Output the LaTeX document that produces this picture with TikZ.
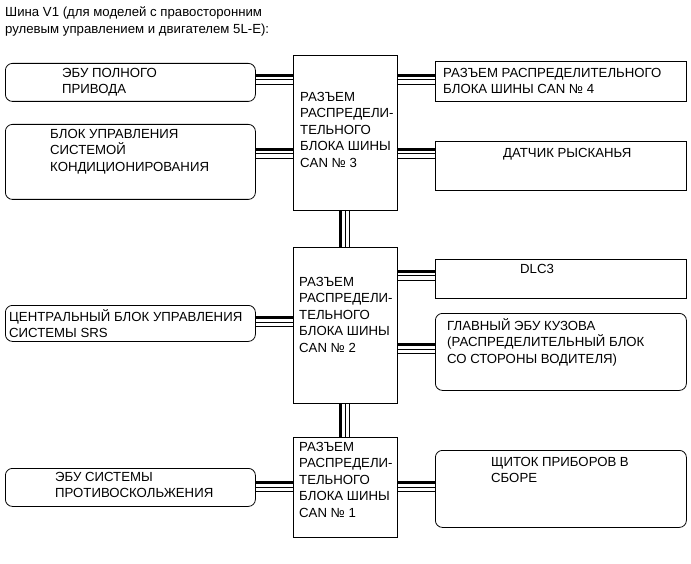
\documentclass[tikz,border=0pt]{standalone}
\usepackage{fontspec}
\setmainfont{Liberation Sans}
\tikzset{
  unit/.style={draw, rounded corners=7pt, line width=0.8pt, anchor=north west, inner sep=0pt},
  plainbox/.style={draw, line width=0.8pt, anchor=north west, inner sep=0pt},
  caption/.style={anchor=north west, align=left, inner sep=0pt, font=\fontsize{13.2}{16.5}\selectfont},
}
% шина из трех проводов
\newcommand{\hbus}[3]{%
  \foreach \o/\w in {-4.5/2.2pt, 0/1pt, 4.5/1.4pt}
    \draw[line width=\w] (#1.east |- 0,#3+\o) -- (#2.west |- 0,#3+\o);}
\newcommand{\vbus}[3]{%
  \foreach \o/\w in {-4.5/2.2pt, 0/1pt, 4.5/1.4pt}
    \draw[line width=\w] (#1.south -| #3+\o,0) -- (#2.north -| #3+\o,0);}
\begin{document}
\begin{tikzpicture}[x=1pt,y=-1pt]
\useasboundingbox (0,0) rectangle (691,564);
\node[caption] (title) at (5,7) {Шина V1 (для моделей с правосторонним\\рулевым управлением и двигателем 5L-E):};
% узел CAN 3
\node[plainbox, minimum width=104pt, minimum height=155pt] (can3) at (293,55) {};
\node[caption] (can3t) at (300,92) {РАЗЪЕМ\\РАСПРЕДЕЛИ-\\ТЕЛЬНОГО\\БЛОКА ШИНЫ\\CAN № 3};
\node[unit, minimum width=250pt, minimum height=38pt] (awd) at (5,63) {};
\node[caption] (awdt) at (62,68) {ЭБУ ПОЛНОГО\\ПРИВОДА};
\node[unit, minimum width=250pt, minimum height=75pt] (ac) at (5,124) {};
\node[caption] (act) at (50,129) {БЛОК УПРАВЛЕНИЯ\\СИСТЕМОЙ\\КОНДИЦИОНИРОВАНИЯ};
\node[plainbox, minimum width=251pt, minimum height=40pt] (can4) at (435,61) {};
\node[caption] (can4t) at (443,68) {РАЗЪЕМ РАСПРЕДЕЛИТЕЛЬНОГО\\БЛОКА ШИНЫ CAN № 4};
\node[plainbox, minimum width=251pt, minimum height=49pt] (yaw) at (435,141) {};
\node[caption] (yawt) at (503,148) {ДАТЧИК РЫСКАНЬЯ};
% узел CAN 2
\node[plainbox, minimum width=104pt, minimum height=156pt] (can2) at (293,247) {};
\node[caption] (can2t) at (299,277) {РАЗЪЕМ\\РАСПРЕДЕЛИ-\\ТЕЛЬНОГО\\БЛОКА ШИНЫ\\CAN № 2};
\node[plainbox, minimum width=251pt, minimum height=39pt] (dlc) at (435,259) {};
\node[caption] (dlct) at (520,264) {DLC3};
\node[unit, minimum width=250pt, minimum height=36pt] (srs) at (5,305) {};
\node[caption] (srst) at (9,309) {ЦЕНТРАЛЬНЫЙ БЛОК УПРАВЛЕНИЯ\\СИСТЕМЫ SRS};
\node[unit, minimum width=251pt, minimum height=77pt] (body) at (435,313) {};
\node[caption] (bodyt) at (447,318) {ГЛАВНЫЙ ЭБУ КУЗОВА\\(РАСПРЕДЕЛИТЕЛЬНЫЙ БЛОК\\СО СТОРОНЫ ВОДИТЕЛЯ)};
% узел CAN 1
\node[plainbox, minimum width=104pt, minimum height=100pt] (can1) at (293,437) {};
\node[caption] (can1t) at (299,442) {РАЗЪЕМ\\РАСПРЕДЕЛИ-\\ТЕЛЬНОГО\\БЛОКА ШИНЫ\\CAN № 1};
\node[unit, minimum width=250pt, minimum height=38pt] (abs) at (5,468) {};
\node[caption] (abst) at (55,472) {ЭБУ СИСТЕМЫ\\ПРОТИВОСКОЛЬЖЕНИЯ};
\node[unit, minimum width=251pt, minimum height=77pt] (meter) at (435,450) {};
\node[caption] (metert) at (491,457) {ЩИТОК ПРИБОРОВ В\\СБОРЕ};
% шины
\hbus{awd}{can3}{80}
\hbus{ac}{can3}{154}
\hbus{can3}{can4}{80}
\hbus{can3}{yaw}{154}
\vbus{can3}{can2}{345}
\hbus{can2}{dlc}{276}
\hbus{srs}{can2}{322}
\hbus{can2}{body}{349}
\vbus{can2}{can1}{345}
\hbus{abs}{can1}{487}
\hbus{can1}{meter}{487}
\end{tikzpicture}
\end{document}
